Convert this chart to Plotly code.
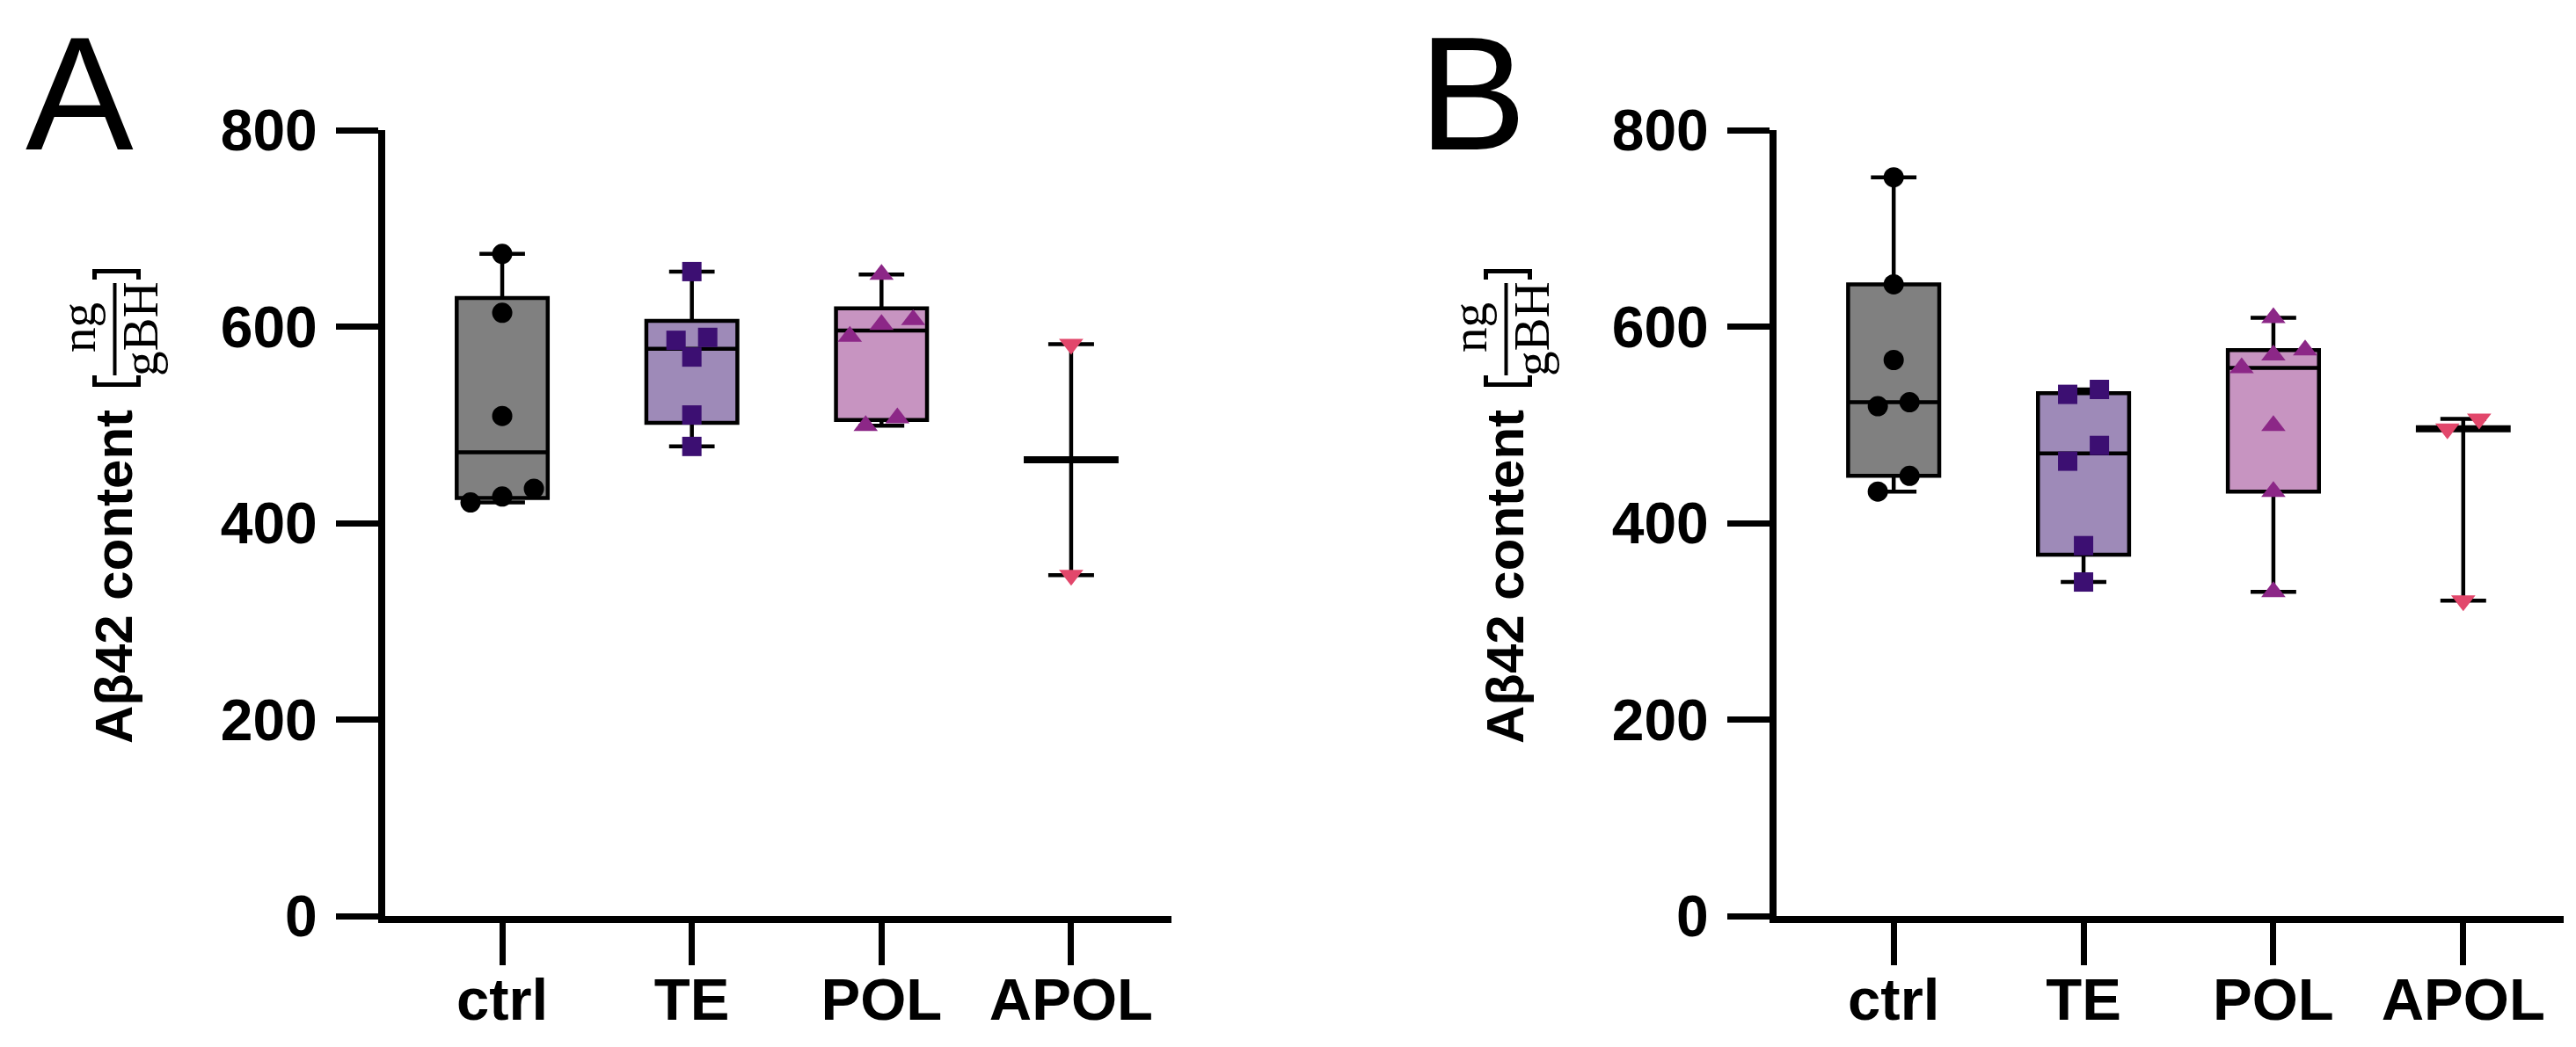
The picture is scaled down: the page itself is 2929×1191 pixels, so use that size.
import numpy as np
import plotly.graph_objects as go

# ---------------- data ----------------
categories = ["ctrl", "TE", "POL", "APOL"]
y_ticks = [0, 200, 400, 600, 800]

# Panel A  (Aβ42 content, ng/gBH)
ctrl_A = [674, 614, 509, 435, 427, 421]
te_A = [656, 589, 586, 569, 510, 478]
pol_A = [653, 607, 602, 590, 507, 499]
apol_A = [582, 347]

# Panel B
ctrl_B = [752, 643, 566, 523, 519, 448, 432]
te_B = [536, 531, 479, 463, 377, 340]
pol_B = [609, 576, 571, 558, 499, 432, 330]
apol_B = [506, 496, 321]

# ---------------- styling ----------------
W, H = 2929, 1191
def px(x):
    return x / W
def py(y):
    return 1 - y / H

box_fill = ["#808080", "#9e8ab8", "#c794c1", None]
pt_color = ["#000000", "#3c0f72", "#8c2787", "#e2476b"]
pt_symbol = ["circle", "square", "triangle-up", "triangle-down"]
pt_size = [23, 22, 24, 24]

X_RANGE = [-0.617, 3.529]
PX_PER_X = 215.5
PX_PER_Y = 894 / 800
STEP = 36 / PX_PER_X
THRESH = 18.5

SANS = "Liberation Sans, Arial, Helvetica, sans-serif"
SERIF = "Liberation Serif, Times New Roman, serif"


def swarm_offsets(vals):
    vals = np.asarray(vals, dtype=float)
    order = np.argsort(vals)
    groups, cur = [], [order[0]]
    for a, b in zip(order[:-1], order[1:]):
        if (vals[b] - vals[a]) * PX_PER_Y < THRESH:
            cur.append(b)
        else:
            groups.append(cur)
            cur = [b]
    groups.append(cur)
    off = np.zeros(len(vals))
    for g in groups:
        k = len(g)
        for j, idx in enumerate(g):
            off[idx] = (j - (k - 1) / 2) * STEP
    return off


fig = go.Figure()


def add_panel(groups, xa, ya):
    for i, vals in enumerate(groups):
        v = np.asarray(vals, dtype=float)
        med = float(np.median(v))
        if box_fill[i] is not None:
            q1 = float(np.percentile(v, 25, method="weibull"))
            q3 = float(np.percentile(v, 75, method="weibull"))
            fig.add_trace(go.Box(
                x=[i], q1=[q1], median=[med], q3=[q3],
                lowerfence=[float(v.min())], upperfence=[float(v.max())],
                width=0.48, whiskerwidth=0.5, fillcolor=box_fill[i],
                line=dict(color="black", width=4.5), boxpoints=False,
                xaxis=xa, yaxis=ya, showlegend=False, hoverinfo="skip"))
        else:
            fig.add_trace(go.Scatter(
                x=[i], y=[med], mode="markers",
                marker=dict(symbol="line-ew", size=77, color="black",
                            line=dict(color="black", width=8)),
                error_y=dict(type="data", symmetric=False,
                             array=[float(v.max()) - med],
                             arrayminus=[med - float(v.min())],
                             width=26, thickness=4.5, color="black"),
                xaxis=xa, yaxis=ya, showlegend=False, hoverinfo="skip"))
    for i, vals in enumerate(groups):
        off = swarm_offsets(vals)
        fig.add_trace(go.Scatter(
            x=[i + o for o in off], y=vals, mode="markers",
            marker=dict(symbol=pt_symbol[i], size=pt_size[i], color=pt_color[i],
                        line=dict(width=0)),
            xaxis=xa, yaxis=ya, showlegend=False, hoverinfo="skip"))


add_panel([ctrl_A, te_A, pol_A, apol_A], "x", "y")
add_panel([ctrl_B, te_B, pol_B, apol_B], "x2", "y2")

ydom = [py(1042), py(148)]

def xaxis_cfg(dom, anchor):
    return dict(domain=dom, range=X_RANGE, tickvals=[0, 1, 2, 3], ticktext=categories,
                anchor=anchor, automargin=False,
                ticks="outside", ticklen=48, tickwidth=7, tickcolor="black",
                showline=True, linewidth=8, linecolor="black", showgrid=False,
                zeroline=False, ticklabelstandoff=-18,
                tickfont=dict(family=SANS, size=67, color="black", weight="bold"))

def yaxis_cfg(anchor):
    return dict(domain=ydom, range=[0, 800], tickvals=y_ticks,
                ticktext=[str(t) for t in y_ticks], anchor=anchor, automargin=False,
                ticks="outside", ticklen=48, tickwidth=7, tickcolor="black",
                showline=True, linewidth=8, linecolor="black", showgrid=False,
                zeroline=False, ticklabelstandoff=8,
                tickfont=dict(family=SANS, size=66, color="black", weight="bold"))

annotations = []
shapes = []
for dx, letter, lx in [(0, "A", 28), (1582, "B", 1612)]:
    annotations.append(dict(text=letter, x=px(lx), y=py(1.5), xref="paper", yref="paper",
                            xanchor="left", yanchor="top", showarrow=False, borderpad=0,
                            font=dict(family=SANS, size=184, color="black")))
    annotations.append(dict(text="Aβ42 content", x=px(129 + dx), y=py(656),
                            xref="paper", yref="paper", textangle=-90,
                            xanchor="center", yanchor="middle", showarrow=False,
                            font=dict(family=SANS, size=60, color="black", weight="bold")))
    annotations.append(dict(text="ng", x=px(89 + dx), y=py(373),
                            xref="paper", yref="paper", textangle=-90,
                            xanchor="center", yanchor="middle", showarrow=False,
                            font=dict(family=SERIF, size=57, color="black")))
    annotations.append(dict(text="gBH", x=px(159 + dx), y=py(374),
                            xref="paper", yref="paper", textangle=-90,
                            xanchor="center", yanchor="middle", showarrow=False,
                            font=dict(family=SERIF, size=57, color="black")))
    shapes.append(dict(type="line", xref="paper", yref="paper",
                       x0=px(130.5 + dx), x1=px(130.5 + dx), y0=py(322), y1=py(427),
                       line=dict(color="black", width=4)))
    shapes.append(dict(type="path", xref="paper", yref="paper",
                       path=f"M {px(107.5+dx)},{py(318)} L {px(107.5+dx)},{py(308.5)} "
                            f"L {px(157.5+dx)},{py(308.5)} L {px(157.5+dx)},{py(318)}",
                       line=dict(color="black", width=5)))
    shapes.append(dict(type="path", xref="paper", yref="paper",
                       path=f"M {px(107.5+dx)},{py(427)} L {px(107.5+dx)},{py(437.5)} "
                            f"L {px(157.5+dx)},{py(437.5)} L {px(157.5+dx)},{py(427)}",
                       line=dict(color="black", width=5)))

fig.update_layout(
    template="none",
    width=W, height=H, margin=dict(l=0, r=0, t=0, b=0, pad=0, autoexpand=False),
    paper_bgcolor="white", plot_bgcolor="white", showlegend=False,
    xaxis=xaxis_cfg([px(438), px(1332)], "y"),
    yaxis=yaxis_cfg("x"),
    xaxis2=xaxis_cfg([px(2020), px(2915)], "y2"),
    yaxis2=yaxis_cfg("x2"),
    annotations=annotations, shapes=shapes,
)

fig.write_html(
    "out.html",
    config={"displayModeBar": False},
    post_script="document.body.style.margin='0';document.body.style.overflow='hidden';",
)
